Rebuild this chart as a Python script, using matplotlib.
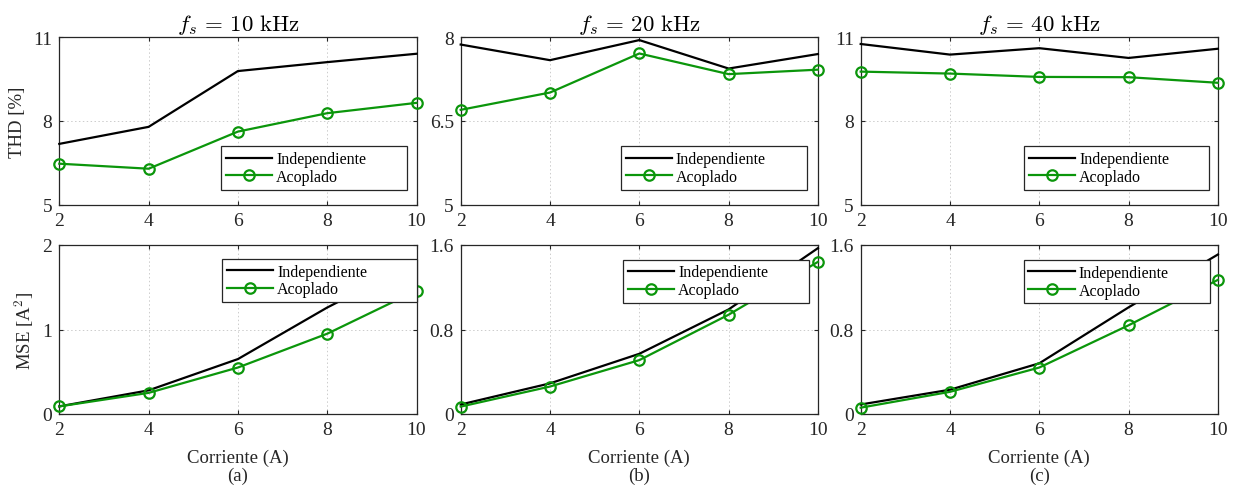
import matplotlib
matplotlib.use("Agg")
import matplotlib.pyplot as plt

plt.rcParams["font.family"] = ["Liberation Serif", "DejaVu Serif"]
plt.rcParams["mathtext.fontset"] = "cm"

corriente = [2, 4, 6, 8, 10]
frecuencias = [10, 20, 40]
panel_tags = ["(a)", "(b)", "(c)"]

thd_indep = [
    [7.18, 7.79, 9.79, 10.11, 10.41],
    [7.87, 7.59, 7.95, 7.44, 7.70],
    [10.76, 10.38, 10.61, 10.26, 10.59],
]
thd_acop = [
    [6.47, 6.29, 7.62, 8.28, 8.65],
    [6.70, 7.01, 7.71, 7.34, 7.42],
    [9.77, 9.70, 9.58, 9.57, 9.37],
]
mse_indep = [
    [0.09, 0.28, 0.65, 1.26, 1.80],
    [0.09, 0.29, 0.57, 0.99, 1.57],
    [0.09, 0.23, 0.48, 1.01, 1.51],
]
mse_acop = [
    [0.09, 0.25, 0.55, 0.95, 1.46],
    [0.07, 0.26, 0.51, 0.94, 1.44],
    [0.06, 0.21, 0.44, 0.84, 1.27],
]

thd_limits = [(5, 11), (5, 8), (5, 11)]
thd_ticks = [[5, 8, 11], [5, 6.5, 8], [5, 8, 11]]
mse_limits = [(0, 2), (0, 1.6), (0, 1.6)]
mse_ticks = [[0, 1, 2], [0, 0.8, 1.6], [0, 0.8, 1.6]]

GREEN = "#0b960b"
AXC = "#262626"

W, H = 1235, 489
fig = plt.figure(figsize=(W / 100, H / 100), dpi=100)

lefts = [59.3, 460.7, 860.7]
aw = 357.2
top_row = (38.3, 205.7)
bot_row = (246.0, 415.0)

# legend boxes as (x0, y0, width, height) in axes fractions
top_leg = [(0.453, 0.09, 0.520, 0), (0.448, 0.09, 0.521, 0),
           (0.457, 0.09, 0.519, 0)]
bot_leg = [(0.456, 0, 0.545, 0.917), (0.455, 0, 0.521, 0.913),
           (0.456, 0, 0.521, 0.91)]


def style(ax, xlim, ylim, yticks):
    ax.set_xlim(*xlim)
    ax.set_ylim(*ylim)
    ax.set_xticks(corriente)
    ax.set_yticks(yticks)
    ax.set_yticklabels([f"{t:g}" for t in yticks])
    ax.grid(True, linestyle=(0, (1.5, 2.5)), color="#cccccc", linewidth=0.7)
    ax.tick_params(direction="in", length=3, width=0.8, top=True, right=True,
                   labelsize=14, colors=AXC, pad=5)
    for s in ax.spines.values():
        s.set_color(AXC)
        s.set_linewidth(0.9)


def draw(ax, y1, y2, leg_box, leg_loc):
    ax.plot(corriente, y1, color="black", linewidth=1.6, label="Independiente",
            clip_on=False, zorder=3)
    ax.plot(corriente, y2, color=GREEN, linewidth=1.6, marker="o",
            markersize=7.5, markerfacecolor="none", markeredgewidth=1.6,
            label="Acoplado", clip_on=False, zorder=4)
    leg = ax.legend(loc=leg_loc, bbox_to_anchor=leg_box, mode="expand",
                    fontsize=11.5, fancybox=False, framealpha=1,
                    edgecolor=AXC, handlelength=2.9, labelspacing=0.1,
                    borderpad=0.3, handletextpad=0.25, borderaxespad=0)
    leg.get_frame().set_linewidth(0.9)
    leg.set_zorder(5)


for i in range(3):
    axt = fig.add_axes([lefts[i] / W, 1 - top_row[1] / H, aw / W,
                        (top_row[1] - top_row[0]) / H])
    style(axt, (2, 10), thd_limits[i], thd_ticks[i])
    draw(axt, thd_indep[i], thd_acop[i], top_leg[i], "lower left")
    axt.set_title(r"$f_s\,=\,%d\ \mathrm{kHz}$" % frecuencias[i],
                  fontsize=16.5, pad=5)

    axb = fig.add_axes([lefts[i] / W, 1 - bot_row[1] / H, aw / W,
                        (bot_row[1] - bot_row[0]) / H])
    style(axb, (2, 10), mse_limits[i], mse_ticks[i])
    draw(axb, mse_indep[i], mse_acop[i], bot_leg[i], "upper left")
    axb.set_xlabel("Corriente (A)", fontsize=13.5, color=AXC, labelpad=7.5)
    fig.text((lefts[i] + aw / 2) / W, 1 - 476 / H, panel_tags[i],
             ha="center", va="center", fontsize=13.5, color=AXC)

    if i == 0:
        axt.set_ylabel("THD [%]", fontsize=13.5, color=AXC, labelpad=5)
        axb.set_ylabel(r"MSE [A$^2$]", fontsize=13.5, color=AXC, labelpad=5)

fig.savefig("out.png", dpi=100)
